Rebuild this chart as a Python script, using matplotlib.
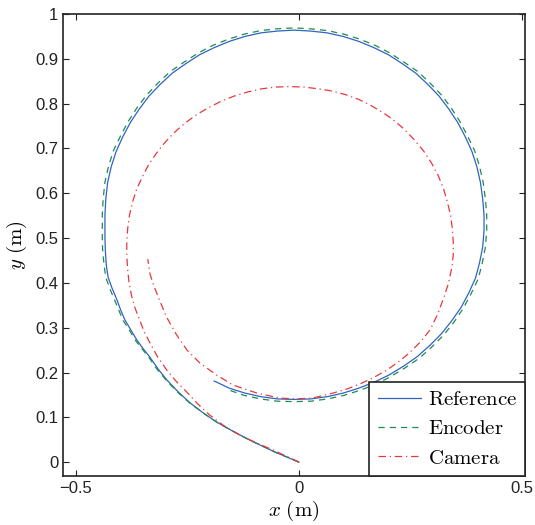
import matplotlib
matplotlib.use("Agg")
import matplotlib.pyplot as plt

plt.rcParams["mathtext.fontset"] = "cm"
plt.rcParams["font.family"] = ["Liberation Sans", "DejaVu Sans"]

# Reference trajectory
ref_x = [0, -0.055, -0.110, -0.150, -0.184, -0.215, -0.244, -0.271, -0.296, -0.316,
         -0.334, -0.350, -0.363, -0.377, -0.390, -0.400, -0.408, -0.419, -0.428, -0.432,
         -0.434, -0.435,
         -0.435, -0.433, -0.429, -0.421, -0.410, -0.395, -0.378, -0.358, -0.336, -0.311,
         -0.284, -0.254, -0.223, -0.190, -0.156, -0.121, -0.085, -0.048, -0.011, 0.026,
         0.063, 0.099, 0.134, 0.168, 0.201, 0.232, 0.262, 0.289, 0.314, 0.336,
         0.356, 0.373, 0.388, 0.399, 0.407, 0.412, 0.415, 0.415, 0.412, 0.405,
         0.396, 0.381, 0.364, 0.343, 0.320, 0.294, 0.266, 0.236, 0.203, 0.170,
         0.134, 0.099, 0.063, 0.026, -0.011, -0.048, -0.085, -0.121, -0.156, -0.190]
ref_y = [0, 0.023, 0.049, 0.070, 0.089, 0.110, 0.132, 0.157, 0.183, 0.208,
         0.234, 0.254, 0.272, 0.295, 0.317, 0.340, 0.362, 0.388, 0.413, 0.440,
         0.470, 0.500,
         0.552, 0.588, 0.624, 0.659, 0.693, 0.726, 0.758, 0.788, 0.817, 0.843,
         0.868, 0.889, 0.909, 0.925, 0.939, 0.950, 0.958, 0.962, 0.964, 0.962,
         0.958, 0.950, 0.939, 0.925, 0.909, 0.889, 0.868, 0.843, 0.817, 0.788,
         0.758, 0.726, 0.693, 0.659, 0.624, 0.588, 0.552, 0.516, 0.480, 0.445,
         0.411, 0.378, 0.346, 0.316, 0.287, 0.261, 0.236, 0.215, 0.195, 0.179,
         0.165, 0.154, 0.146, 0.141, 0.140, 0.141, 0.146, 0.154, 0.165, 0.181]

# Encoder estimate
enc_x = [0, -0.055, -0.110, -0.150, -0.184, -0.215, -0.245, -0.272, -0.297, -0.318,
         -0.336, -0.352, -0.366, -0.380, -0.394, -0.404, -0.413, -0.424, -0.433, -0.437,
         -0.440, -0.441,
         -0.441, -0.439, -0.435, -0.427, -0.416, -0.400, -0.383, -0.363, -0.341, -0.315,
         -0.288, -0.257, -0.226, -0.193, -0.158, -0.123, -0.086, -0.049, -0.011, 0.027,
         0.064, 0.101, 0.136, 0.171, 0.204, 0.235, 0.266, 0.293, 0.319, 0.341,
         0.361, 0.378, 0.394, 0.405, 0.413, 0.418, 0.421, 0.421, 0.418, 0.411,
         0.402, 0.386, 0.369, 0.348, 0.325, 0.298, 0.270, 0.239, 0.206, 0.173,
         0.136, 0.101, 0.064, 0.027, -0.011, -0.049, -0.086, -0.123, -0.160]
enc_y = [0, 0.023, 0.049, 0.070, 0.089, 0.110, 0.132, 0.156, 0.182, 0.207,
         0.233, 0.253, 0.271, 0.294, 0.316, 0.339, 0.361, 0.387, 0.412, 0.440,
         0.470, 0.500,
         0.552, 0.588, 0.625, 0.660, 0.695, 0.728, 0.760, 0.791, 0.820, 0.847,
         0.872, 0.893, 0.913, 0.930, 0.944, 0.955, 0.963, 0.967, 0.969, 0.967,
         0.963, 0.955, 0.944, 0.930, 0.913, 0.893, 0.872, 0.847, 0.820, 0.791,
         0.760, 0.728, 0.695, 0.660, 0.625, 0.588, 0.552, 0.516, 0.479, 0.444,
         0.409, 0.376, 0.344, 0.313, 0.284, 0.257, 0.232, 0.211, 0.191, 0.174,
         0.160, 0.149, 0.141, 0.136, 0.135, 0.136, 0.141, 0.149, 0.162]

# Camera estimate
cam_x = [0, -0.058, -0.100, -0.132, -0.168, -0.200, -0.227, -0.251, -0.275, -0.296,
         -0.317, -0.334, -0.347, -0.357, -0.368, -0.375, -0.381, -0.384, -0.386, -0.386,
         -0.384, -0.380, -0.373, -0.364, -0.351, -0.337, -0.319, -0.300, -0.279, -0.255,
         -0.230, -0.203, -0.175, -0.145, -0.115, -0.084, -0.052, -0.020, 0.012, 0.044,
         0.075, 0.105, 0.135, 0.163, 0.187, 0.210, 0.235, 0.258, 0.279, 0.297,
         0.312, 0.324, 0.333, 0.340, 0.344, 0.346, 0.346, 0.343, 0.335, 0.323,
         0.310, 0.294, 0.272, 0.248, 0.222, 0.195, 0.166, 0.138, 0.110, 0.076, 0.031,
         -0.010, -0.043, -0.094, -0.148, -0.184, -0.222, -0.251, -0.275, -0.297, -0.312,
         -0.326, -0.334, -0.339]
cam_y = [0, 0.027, 0.045, 0.060, 0.081, 0.105, 0.130, 0.156, 0.180, 0.205,
         0.235, 0.266, 0.291, 0.317, 0.345, 0.370, 0.400, 0.430, 0.460, 0.490,
         0.521, 0.551, 0.581, 0.609, 0.637, 0.664, 0.690, 0.714, 0.736, 0.757,
         0.775, 0.791, 0.805, 0.817, 0.826, 0.833, 0.837, 0.838, 0.837, 0.833,
         0.828, 0.820, 0.809, 0.795, 0.781, 0.765, 0.744, 0.720, 0.695, 0.668,
         0.640, 0.611, 0.580, 0.551, 0.521, 0.490, 0.462, 0.435, 0.398, 0.362,
         0.328, 0.295, 0.268, 0.244, 0.223, 0.204, 0.188, 0.175, 0.164, 0.154, 0.143,
         0.141, 0.143, 0.154, 0.172, 0.194, 0.221, 0.250, 0.285, 0.324, 0.360,
         0.395, 0.420, 0.453]

fig = plt.figure(figsize=(5.35, 5.25), dpi=100)
ax = fig.add_axes([0.1178, 0.0933, 0.8636, 0.88])

ax.plot(ref_x, ref_y, "-", color="#2f64c0", lw=0.9, label=r"$\mathrm{Reference}$")
ax.plot(enc_x, enc_y, "--", color="#1e8c4e", lw=0.9, dashes=(5, 4), label=r"$\mathrm{Encoder}$")
ax.plot(cam_x, cam_y, "-.", color="#e8383c", lw=0.9, dashes=(6, 3, 1, 3), label=r"$\mathrm{Camera}$")

ax.set_xlim(-0.529, 0.507)
ax.set_ylim(-0.031, 1.0)
ax.set_xticks([-0.5, 0, 0.5])
ax.set_xticklabels(["\u22120.5", "0", "0.5"])
ax.set_yticks([0, 0.1, 0.2, 0.3, 0.4, 0.5, 0.6, 0.7, 0.8, 0.9, 1])
ax.set_yticklabels(["0", "0.1", "0.2", "0.3", "0.4", "0.5", "0.6", "0.7", "0.8", "0.9", "1"])
ax.tick_params(direction="in", length=4, width=0.8, top=True, right=True, labelsize=12, colors="#222222")
for s in ax.spines.values():
    s.set_linewidth(1.2)
    s.set_color("#222222")

ax.set_xlabel(r"$x\ \mathrm{(m)}$", fontsize=15, labelpad=2)
ax.set_ylabel(r"$y\ \mathrm{(m)}$", fontsize=15, labelpad=4)

leg = ax.legend(loc="lower right", borderaxespad=0, fontsize=15, fancybox=False,
                framealpha=1, edgecolor="#222222", handlelength=2.1, handletextpad=0.3,
                labelspacing=0.5, borderpad=0.4)
leg.get_frame().set_linewidth(1.2)

fig.savefig("out.png", dpi=100)
